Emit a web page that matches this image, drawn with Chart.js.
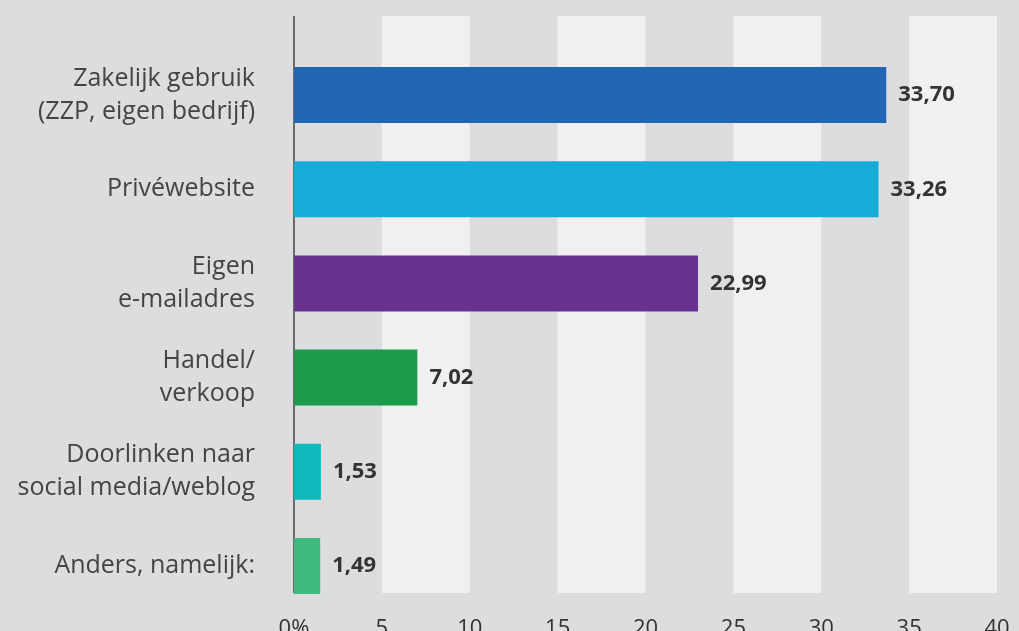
<!DOCTYPE html>
<html>
<head>
<meta charset="utf-8">
<script src="https://cdn.jsdelivr.net/npm/chart.js@4"></script>
<style>
  html, body { margin: 0; padding: 0; background: #dcdddf; overflow: hidden; }
  canvas { display: block; }
</style>
</head>
<body>
<canvas id="chart" width="1019" height="631"></canvas>
<script>
const categories = [
    ["Zakelijk gebruik", "(ZZP, eigen bedrijf)"],
    "Privéwebsite",
    ["Eigen", "e-mailadres"],
    ["Handel/", "verkoop"],
    ["Doorlinken naar", "social media/weblog"],
    "Anders, namelijk:"
];
const values = [33.70, 33.26, 22.99, 7.02, 1.53, 1.49];
const barColors = ["#2266b3", "#17abd7", "#6a3290", "#1b9c4b", "#10b9bb", "#3dba7d"];
const xTicks = [0, 5, 10, 15, 20, 25, 30, 35, 40];

// light bands behind every other 5-unit step, plus the vertical axis line
const bandsPlugin = {
    id: "bands",
    beforeDatasetsDraw(chart) {
        const ctx = chart.ctx;
        const x = chart.scales.x;
        const area = chart.chartArea;
        const top = area.top - 32;
        const bottom = area.bottom - 20;
        ctx.save();
        ctx.fillStyle = "#f0f0f0";
        for (let i = 1; i < xTicks.length - 1; i += 2) {
            const x1 = x.getPixelForValue(xTicks[i]);
            const x2 = x.getPixelForValue(xTicks[i + 1]);
            ctx.fillRect(x1, top, x2 - x1, bottom - top);
        }
        ctx.strokeStyle = "#6b6b6b";
        ctx.lineWidth = 2;
        ctx.beginPath();
        const x0 = x.getPixelForValue(0);
        ctx.moveTo(x0, top);
        ctx.lineTo(x0, bottom);
        ctx.stroke();
        ctx.restore();
    }
};

const valueLabels = {
    id: "valueLabels",
    afterDatasetsDraw(chart) {
        const ctx = chart.ctx;
        const meta = chart.getDatasetMeta(0);
        ctx.save();
        ctx.font = "bold 22px 'Open Sans', sans-serif";
        ctx.fillStyle = "#333333";
        ctx.textAlign = "left";
        ctx.textBaseline = "middle";
        meta.data.forEach((bar, i) => {
            const txt = values[i].toFixed(2).replace(".", ",");
            ctx.fillText(txt, bar.x + 12, bar.y);
        });
        ctx.restore();
    }
};

const ctx = document.getElementById("chart").getContext("2d");
new Chart(ctx, {
    type: "bar",
    data: {
        labels: categories,
        datasets: [{
            data: values,
            backgroundColor: barColors,
            borderWidth: 0,
            categoryPercentage: 1,
            barPercentage: 0.595
        }]
    },
    options: {
        indexAxis: "y",
        responsive: false,
        animation: false,
        layout: { padding: { top: 48, right: 22, left: 0, bottom: 0 } },
        plugins: {
            legend: { display: false },
            tooltip: { enabled: false }
        },
        scales: {
            x: {
                min: 0,
                max: 40,
                grid: { display: false },
                border: { display: false },
                afterFit: s => { s.height = 18; s.paddingLeft = 0; s.paddingRight = 0; },
                afterBuildTicks: s => { s.ticks = xTicks.map(v => ({ value: v })); },
                ticks: {
                    padding: -5,
                    color: "#333333",
                    font: { family: "'Open Sans', sans-serif", size: 22 },
                    callback: v => v === 0 ? "0%" : String(v)
                }
            },
            y: {
                grid: { display: false },
                border: { display: false },
                afterFit: s => { s.width = 294; s.paddingTop = 0; s.paddingBottom = 0; },
                ticks: {
                    padding: 31,
                    color: "#444444",
                    font: { family: "'Open Sans', sans-serif", size: 25, lineHeight: 1.32 }
                }
            }
        }
    },
    plugins: [bandsPlugin, valueLabels]
});
</script>
</body>
</html>
